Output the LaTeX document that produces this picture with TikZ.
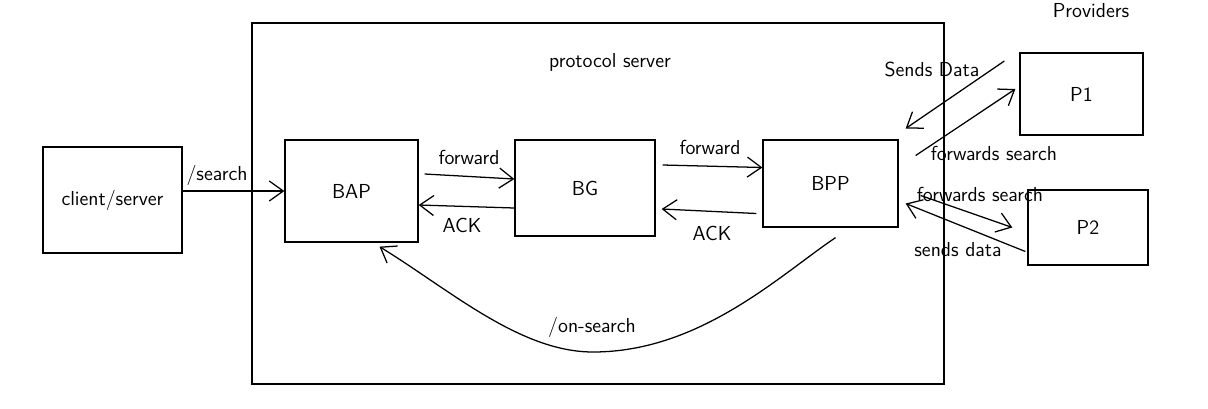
\documentclass[tikz,border=0pt]{standalone}
\usetikzlibrary{arrows.meta,calc}

\begin{document}
\begin{tikzpicture}[x=0.025cm,y=-0.025cm,
                    font=\sffamily\Large,
                    line width=0.9pt,
                    boxND/.style={rectangle,
                                  draw=black,
                                  inner sep=0pt,
                                  align=center},
                    flowAR/.style={-{Straight Barb[length=3.5mm,width=5mm,line width=0.9pt]}}]
    \useasboundingbox (0,0) rectangle (1208,408);
    % container and boxes
    \node[boxND, minimum width=17.3cm,  minimum height=9.025cm](PS)  at (598,203.5) {};
    \node[boxND, minimum width=3.475cm, minimum height=2.65cm] (CS)  at (112.5,200) {client/server};
    \node[boxND, minimum width=3.325cm, minimum height=2.55cm] (BAP) at (351.5,191) {BAP};
    \node[boxND, minimum width=3.5cm,   minimum height=2.4cm]  (BG)  at (585,188)   {BG};
    \node[boxND, minimum width=3.375cm, minimum height=2.175cm](BPP) at (830.5,183.5) {BPP};
    \node[boxND, minimum width=3.075cm, minimum height=2.05cm] (P1)  at (1081.5,94) {P1};
    \node[boxND, minimum width=3.0cm,   minimum height=1.875cm](P2)  at (1088,227.5) {P2};
    % labels
    \node (lPS)   at (610,62)  {protocol server};
    \node (lProv) at (1091,11) {Providers};
    \node (lSrch) at (217,175) {/search};
    \node (lFw1)  at (469,157) {forward};
    \node (lAck1) at (462,225) {ACK};
    \node (lFw2)  at (710,147) {forward};
    \node (lAck2) at (712,233) {ACK};
    \node (lSD1)  at (932,69)  {Sends Data};
    \node (lFS1)  at (994,153) {forwards search};
    \node (lFS2)  at (980,194) {forwards search};
    \node (lSD2)  at (958,250) {sends data};
    \node (lOn)   at (592,327) {/on-search};
    % connectors
    \path[flowAR]
        (CS.east |- BAP.west)               edge (BAP.west)
        ([shift={(6,-17)}]BAP.east)         edge ([shift={(0,-9)}]BG.west)
        ([shift={(0,20)}]BG.west)           edge ([shift={(0,14)}]BAP.east)
        ([shift={(7,-23)}]BG.east)          edge ([shift={(0,-16)}]BPP.west)
        ([shift={(-6,30)}]BPP.west)         edge ([shift={(6,21)}]BG.east)
        ([shift={(-15,-33)}]P1.west)        edge ([shift={(7,-55)}]BPP.east)
        ([shift={(17,-28)}]BPP.east)        edge ([shift={(-4,-5)}]P1.west)
        ([shift={(22,12)}]BPP.east)         edge ([shift={(-15,0)}]P2.west)
        ([shift={(-2,24)}]P2.west)          edge ([shift={(7,20)}]BPP.east)
        ;
    \draw[flowAR] ([shift={(5,10)}]BPP.south)
        .. controls (780,275) and (700,352) .. (593,352)
        .. controls (520,352) and (450,290) .. ([shift={(28,4)}]BAP.south);
\end{tikzpicture}
\end{document}
